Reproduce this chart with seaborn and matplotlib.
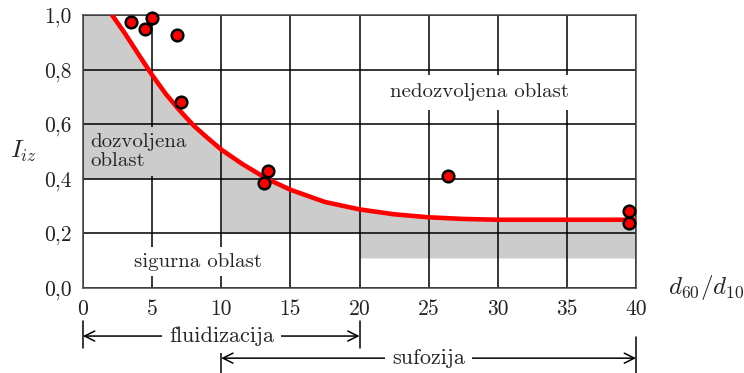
import numpy as np
import matplotlib
matplotlib.use("Agg")
import matplotlib.pyplot as plt
import matplotlib.transforms as mtransforms
import seaborn as sns

# Boundary curve I_iz(d60/d10)
curve_x = [2.1, 3.0, 4.0, 5.0, 6.0, 7.0, 8.0, 9.0, 10.0, 11.5, 13.3, 15.0,
           17.5, 20.0, 22.5, 25.0, 27.5, 30.0, 40.0]
curve_y = [1.0, 0.935, 0.857, 0.78, 0.71, 0.65, 0.595, 0.55, 0.507, 0.455,
           0.40, 0.36, 0.315, 0.288, 0.27, 0.259, 0.253, 0.25, 0.25]

# Measured samples
pts_x = [3.5, 4.5, 5.0, 6.8, 7.1, 13.4, 13.1, 26.4, 39.5, 39.5]
pts_y = [0.975, 0.947, 0.99, 0.927, 0.68, 0.43, 0.386, 0.411, 0.281, 0.237]

# Lower limits of the allowed zone
zone_edges = [0, 10, 20, 40]
zone_floor = [0.4, 0.2, 0.11]

x_ticks = [0, 5, 10, 15, 20, 25, 30, 35, 40]
y_ticks = [0.0, 0.2, 0.4, 0.6, 0.8, 1.0]
y_tick_labels = ["0,0", "0,2", "0,4", "0,6", "0,8", "1,0"]

sns.set_theme(style="white")
plt.rcParams["font.family"] = ["cmr10", "DejaVu Serif"]
plt.rcParams["mathtext.fontset"] = "cm"
plt.rcParams["axes.formatter.use_mathtext"] = True

W, H = 744, 373
fig = plt.figure(figsize=(W / 100, H / 100), dpi=100)
ax = fig.add_axes([83 / W, 1 - 288 / H, 553 / W, 273 / H])

GRAY = "#cccccc"

# allowed zone: between the stepped floor and the boundary curve
cx = np.array(curve_x)
cy = np.array(curve_y)
for (a, b), floor in zip(zip(zone_edges[:-1], zone_edges[1:]), zone_floor):
    xs = np.unique(np.concatenate([[a, b], cx[(cx > a) & (cx < b)]]))
    top = np.interp(xs, cx, cy, left=1.0)
    ax.fill_between(xs, floor, top, color=GRAY, lw=0, zorder=0.2)

sns.lineplot(x=curve_x, y=curve_y, ax=ax, color="#ff0000", lw=3.3,
             zorder=3, sort=False)
sns.scatterplot(x=pts_x, y=pts_y, ax=ax, color="#ff0000", edgecolor="black",
                linewidth=1.8, s=70, zorder=4, clip_on=False)

ax.set_xlim(0, 40)
ax.set_ylim(0, 1.0)
ax.set_xticks(x_ticks)
ax.set_xticklabels([str(t) for t in x_ticks])
ax.set_yticks(y_ticks)
ax.set_yticklabels(y_tick_labels)
ax.tick_params(length=0, pad=8, labelsize=15.5, colors="#222222")
ax.set_axisbelow("line")
ax.grid(True, color="black", lw=1.1)
for s in ax.spines.values():
    s.set_color("#444444")
    s.set_linewidth(1.1)

# zone labels
ax.text(0.5, 0.5, "dozvoljena\noblast", fontsize=15, ha="left", va="center",
        linespacing=1.05, zorder=2.5,
        bbox=dict(facecolor=GRAY, edgecolor="none", pad=4.5))
ax.text(28.7, 0.717, "nedozvoljena oblast", fontsize=15, ha="center",
        va="center", zorder=2.5,
        bbox=dict(facecolor="white", edgecolor="none", pad=6))
ax.text(8.3, 0.096, "sigurna oblast", fontsize=15, ha="center", va="center",
        zorder=2.5, bbox=dict(facecolor="white", edgecolor="none", pad=4))

# axis titles
fig.text(24 / W, 1 - 151 / H, r"$I_{iz}$", fontsize=18, ha="center",
         va="center")
fig.text(706 / W, 1 - 287 / H, r"$d_{60}/d_{10}$", fontsize=18, ha="center",
         va="center")

# ranges of fluidization and suffusion below the axis
trans = mtransforms.blended_transform_factory(ax.transData, ax.transAxes)


def span(x0, x1, y, label, bars):
    ax.annotate("", xy=(x0, y), xytext=(x1, y), xycoords=trans,
                textcoords=trans, annotation_clip=False,
                arrowprops=dict(arrowstyle="<->", color="black", lw=1.1,
                                mutation_scale=18, shrinkA=0, shrinkB=0))
    ax.text((x0 + x1) / 2, y, label, transform=trans, fontsize=16,
            ha="center", va="center", clip_on=False,
            bbox=dict(facecolor="white", edgecolor="none", pad=5))
    for bx, y0, y1 in bars:
        ax.plot([bx, bx], [y0, y1], transform=trans, color="black", lw=1.1,
                clip_on=False)


span(0, 20, -0.176, "fluidizacija",
     [(0, -0.12, -0.22), (20, -0.12, -0.22)])
span(10, 40, -0.257, "sufozija",
     [(10, -0.215, -0.31), (40, -0.18, -0.31)])

fig.savefig("out.png", dpi=100)
